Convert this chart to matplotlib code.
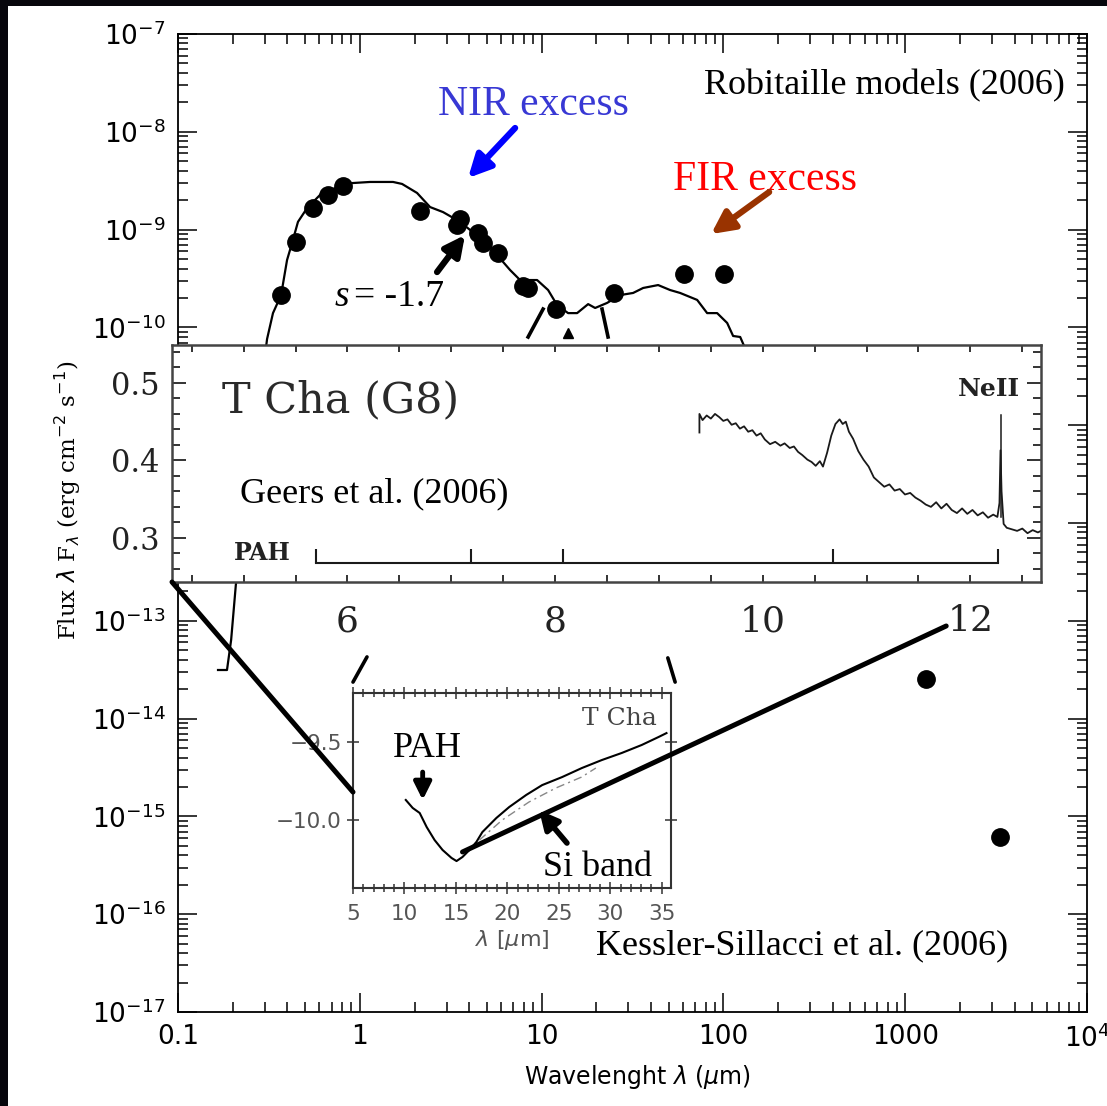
import numpy as np
import matplotlib
matplotlib.use("Agg")
import matplotlib.pyplot as plt
from matplotlib.patches import Rectangle, ConnectionPatch
from matplotlib.ticker import (LogLocator, FixedLocator, FuncFormatter, MultipleLocator,
                               NullFormatter)

# ---- main SED panel (T Cha), Robitaille models ----
phot_wl = [0.369, 0.446, 0.553, 0.669, 0.809, 2.145, 3.56, 3.43, 4.47, 4.77,
           5.77, 7.91, 8.43, 12.0, 25.1, 60.8, 101, 1305, 3332]
phot_flux = [2.14e-10, 7.46e-10, 1.66e-9, 2.26e-9, 2.79e-9, 1.55e-9, 1.28e-9, 1.11e-9, 9.2e-10, 7.3e-10,
             5.77e-10, 2.65e-10, 2.53e-10, 1.54e-10, 2.25e-10, 3.52e-10, 3.52e-10, 2.54e-14, 6.15e-16]

model_wl = [0.166, 0.186, 0.196, 0.208, 0.309, 0.333, 0.369, 0.398, 0.424, 0.457,
            0.513, 0.604, 0.778, 0.906, 1.139, 1.524, 1.708, 2.065, 2.435, 2.871,
            3.562, 4.044, 5.208, 6.709, 7.614, 9.445, 10.86, 12.17, 13.99, 15.68,
            18.03, 19.70, 22.93, 27.03, 31.87, 36.19, 43.75, 50.93, 57.81, 71.71,
            81.39, 92.38, 104.9, 113.1, 123.7, 140.4]
model_flux = [3.14e-14, 3.14e-14, 6.37e-14, 2.32e-13, 7.61e-11, 1.40e-10, 2.14e-10, 4.89e-10, 7.29e-10, 1.20e-9,
              1.66e-9, 2.26e-9, 2.79e-9, 2.99e-9, 3.07e-9, 3.07e-9, 2.93e-9, 2.37e-9, 1.70e-9, 1.51e-9,
              1.20e-9, 9.91e-10, 6.64e-10, 3.86e-10, 3.05e-10, 3.05e-10, 2.41e-10, 1.69e-10, 1.40e-10, 1.40e-10,
              1.73e-10, 1.58e-10, 1.78e-10, 2.14e-10, 2.25e-10, 2.53e-10, 2.71e-10, 2.41e-10, 2.25e-10, 1.91e-10,
              1.40e-10, 1.40e-10, 1.11e-10, 8.17e-11, 7.98e-11, 4.64e-11]

x_decades = [0.1, 1, 10, 100, 1000, 1e4]
y_decades = [1e-17, 1e-16, 1e-15, 1e-14, 1e-13, 1e-12, 1e-11, 1e-10, 1e-9, 1e-8, 1e-7]
y_hidden = [-11, -12]          # labels covered by the Geers panel

# ---- Geers et al. (2006) Spitzer spectrum ----
geers_wl = [9.39, 9.39, 9.42, 9.46, 9.50, 9.54, 9.58, 9.62, 9.66, 9.70,
            9.74, 9.78, 9.82, 9.86, 9.90, 9.94, 9.98, 10.02, 10.07, 10.12,
            10.17, 10.21, 10.26, 10.30, 10.34, 10.38, 10.43, 10.47, 10.51, 10.55,
            10.58, 10.62, 10.66, 10.70, 10.74, 10.77, 10.80, 10.83, 10.87, 10.92,
            10.97, 11.02, 11.07, 11.12, 11.17, 11.22, 11.27, 11.32, 11.37, 11.42,
            11.47, 11.52, 11.57, 11.62, 11.67, 11.72, 11.77, 11.82, 11.87, 11.92,
            11.97, 12.02, 12.07, 12.12, 12.17, 12.22, 12.26, 12.28, 12.29, 12.30,
            12.32, 12.35, 12.40, 12.45, 12.50, 12.55, 12.60, 12.65, 12.68]
geers_flux = [0.436, 0.460, 0.452, 0.458, 0.454, 0.460, 0.456, 0.451, 0.453, 0.446,
              0.448, 0.441, 0.444, 0.437, 0.439, 0.432, 0.435, 0.427, 0.421, 0.424,
              0.419, 0.422, 0.416, 0.418, 0.411, 0.407, 0.401, 0.398, 0.393, 0.399,
              0.392, 0.410, 0.432, 0.447, 0.453, 0.447, 0.450, 0.437, 0.428, 0.412,
              0.401, 0.392, 0.378, 0.372, 0.366, 0.369, 0.361, 0.363, 0.356, 0.358,
              0.352, 0.348, 0.343, 0.340, 0.346, 0.338, 0.344, 0.336, 0.332, 0.338,
              0.331, 0.336, 0.329, 0.333, 0.326, 0.330, 0.327, 0.345, 0.413, 0.360,
              0.318, 0.313, 0.311, 0.309, 0.312, 0.306, 0.310, 0.307, 0.309]
pah_marks = [5.70, 7.19, 8.08, 10.68, 12.27]
neii_wl = 12.29

# ---- Kessler-Silacci et al. (2006) spectrum (log flux) ----
kess_wl = [10.13, 10.80, 11.48, 12.16, 12.93, 13.70, 14.57, 15.06, 15.64, 16.32,
           16.99, 17.57, 18.93, 20.18, 21.83, 23.38, 25.31, 27.24, 29.18, 31.11,
           33.05, 34.69, 35.46]
kess_flux = [-9.872, -9.923, -9.955, -10.045, -10.128, -10.191, -10.242, -10.262, -10.236, -10.191,
             -10.140, -10.077, -9.987, -9.917, -9.840, -9.777, -9.726, -9.668, -9.617, -9.572,
             -9.521, -9.470, -9.445]
kess_cont_wl = [17.28, 19.5, 22.1, 24.7, 27.2, 28.6]
kess_cont = [-10.128, -10.0, -9.885, -9.796, -9.726, -9.668]

SERIF = "Liberation Serif"
CM = "DejaVu Serif"
plt.rcParams["font.family"] = "DejaVu Sans"

W, H = 1107, 1106
fig = plt.figure(figsize=(W / 100, H / 100), dpi=100)
fig.patch.set_facecolor("#07060c")
fig.add_artist(Rectangle((8 / W, 0), 1, 1 - 6 / H, transform=fig.transFigure,
                         fc="white", ec="none", zorder=-10))

# ---------------- main axes ----------------
ax = fig.add_axes([178 / W, 1 - 1012 / H, 909 / W, 978 / H])
ax.set_xscale("log"); ax.set_yscale("log")
ax.set_xlim(0.1, 1e4); ax.set_ylim(1e-17, 1e-7)
ax.plot(model_wl, model_flux, color="black", lw=1.6)
ax.plot(phot_wl, phot_flux, "o", color="black", ms=12.5)

ax.xaxis.set_major_locator(FixedLocator(x_decades))
ax.yaxis.set_major_locator(FixedLocator(y_decades))
for a in (ax.xaxis, ax.yaxis):
    a.set_minor_locator(LogLocator(base=10, subs=np.arange(2, 10), numticks=100))
    a.set_minor_formatter(NullFormatter())
ax.xaxis.set_major_formatter(FuncFormatter(lambda v, p: r"$10^4$" if v >= 1e4 else "%g" % v))
ax.yaxis.set_major_formatter(FuncFormatter(
    lambda v, p: "" if round(np.log10(v)) in y_hidden else r"$10^{%d}$" % round(np.log10(v))))
ax.tick_params(which="both", direction="in", top=True, right=True, width=1.1)
ax.tick_params(which="major", length=14, labelsize=19, pad=9)
ax.tick_params(which="minor", length=7)
for s in ax.spines.values():
    s.set_linewidth(1.3)

fig.text(68 / W, 1 - 500 / H, r"Flux $\lambda$ F$_\lambda$ (erg cm$^{-2}$ s$^{-1}$)",
         rotation=90, ha="center", va="center", fontsize=16.5, family=CM)
fig.text(638 / W, 1 - 1077 / H, r"Wavelenght $\lambda$ ($\mu$m)",
         ha="center", va="center", fontsize=17)

ax.text(8.98, 1.88e-8, "NIR excess", color="#3838d4", fontsize=30, family=SERIF,
        ha="center", va="center")
ax.annotate("", xy=(3.94, 3.37e-9), xytext=(7.15, 1.094e-8),
            arrowprops=dict(arrowstyle="-|>", color="#0000ff", lw=4.5, mutation_scale=34,
                            shrinkA=0, shrinkB=0))
ax.text(169.7, 3.21e-9, "FIR excess", color="#ff0000", fontsize=30, family=SERIF,
        ha="center", va="center")
ax.annotate("", xy=(85.6, 9.0e-10), xytext=(178.5, 2.42e-9),
            arrowprops=dict(arrowstyle="-|>", color="#993300", lw=4.5, mutation_scale=34,
                            shrinkA=0, shrinkB=0))
ax.text(7590, 2.94e-8, "Robitaille models (2006)", fontsize=26, family=SERIF,
        ha="right", va="center")
ax.text(0.80, 2.05e-10, "s", fontsize=27, family=SERIF, style="italic", ha="center", va="center")
ax.text(0.93, 2.05e-10, "= -1.7", fontsize=27, family=SERIF, ha="left", va="center")
ax.annotate("", xy=(3.79, 8.8e-10), xytext=(2.66, 3.68e-10),
            arrowprops=dict(arrowstyle="-|>", color="black", lw=4.5, mutation_scale=30,
                            shrinkA=0, shrinkB=0))
ax.text(271, 4.73e-17, "Kessler-Sillacci et al. (2006)", fontsize=26, family=SERIF,
        ha="center", va="center")

# zoom marks towards the Geers spectrum
ax.plot([10.19, 8.43], [1.54e-10, 7.98e-11], color="black", lw=2.6, clip_on=False)
ax.plot([21.5, 23.2], [1.54e-10, 7.98e-11], color="black", lw=2.6, clip_on=False)
ax.plot([14.0], [8.77e-11], "^", color="black", ms=7)

# ---------------- Geers inset ----------------
axg = fig.add_axes([172 / W, 1 - 582 / H, 869 / W, 237 / H])
axg.set_xlim(4.31, 12.68); axg.set_ylim(0.243, 0.549)
axg.plot(geers_wl, geers_flux, color="#1a1a1a", lw=1.3)
axg.plot([neii_wl, neii_wl], [0.327, 0.459], color="#1a1a1a", lw=1.1)
axg.plot([pah_marks[0], pah_marks[-1]], [0.268, 0.268], color="#1a1a1a", lw=1.5)
axg.vlines(pah_marks, 0.268, 0.286, color="#1a1a1a", lw=1.5)
axg.text(4.796, 0.478, "T Cha (G8)", fontsize=31, family=CM, color="#2a2a2a",
         ha="left", va="center")
axg.text(4.969, 0.357, "Geers et al. (2006)", fontsize=26, family=SERIF,
         ha="left", va="center")
axg.text(5.181, 0.281, "PAH", fontsize=17, family=CM, weight="bold", color="#222222",
         ha="center", va="center")
axg.text(12.18, 0.492, "NeII", fontsize=18, family=CM, weight="bold", color="#222222",
         ha="center", va="center")
axg.xaxis.set_major_locator(MultipleLocator(2))
axg.xaxis.set_minor_locator(MultipleLocator(0.5))
axg.yaxis.set_major_locator(MultipleLocator(0.1))
axg.yaxis.set_minor_locator(MultipleLocator(0.02))
axg.xaxis.set_major_formatter(FuncFormatter(lambda v, p: "%d" % round(v)))
axg.tick_params(which="both", direction="in", top=True, right=True, width=1.4, color="#333333")
axg.tick_params(axis="x", which="both", length=5, labelsize=26, pad=16)
axg.tick_params(axis="y", which="major", length=10, labelsize=22, pad=9)
axg.tick_params(axis="y", which="minor", length=6)
for lab in axg.get_xticklabels() + axg.get_yticklabels():
    lab.set_family(CM); lab.set_color("#222222")
for s in axg.spines.values():
    s.set_linewidth(1.8); s.set_color("#444444")

# ---------------- Kessler inset ----------------
axk = fig.add_axes([353 / W, 1 - 888 / H, 318 / W, 195 / H])
axk.set_xlim(5, 35.9); axk.set_ylim(-10.434, -9.189)
axk.plot(kess_wl, kess_flux, color="black", lw=1.5)
axk.plot(kess_cont_wl, kess_cont, color="#888888", lw=1.0, ls=(0, (6, 3, 1.5, 3)))
axk.xaxis.set_major_locator(MultipleLocator(5))
axk.xaxis.set_minor_locator(MultipleLocator(1))
axk.yaxis.set_major_locator(MultipleLocator(0.5))
axk.tick_params(which="both", direction="inout", top=True, right=True, width=1.1,
                color="#333333", labelcolor="#555555")
axk.tick_params(which="major", length=9, labelsize=15.5)
axk.tick_params(axis="x", which="major", pad=7)
axk.tick_params(which="minor", length=6)
axk.set_xlabel(r"$\lambda$ [$\mu$m]", fontsize=16, color="#555555", labelpad=3)
for s in axk.spines.values():
    s.set_linewidth(1.5); s.set_color("#333333")
axk.text(34.5, -9.349, "T Cha", fontsize=18, family=CM, color="#444444", ha="right", va="center")
axk.text(12.25, -9.541, "PAH", fontsize=26, family=SERIF, ha="center", va="center")
axk.annotate("", xy=(11.77, -9.872), xytext=(11.77, -9.694),
             arrowprops=dict(arrowstyle="-|>", color="black", lw=3.5, mutation_scale=26,
                             shrinkA=0, shrinkB=0))
axk.text(28.79, -10.306, "Si band", fontsize=26, family=SERIF, ha="center", va="center")
axk.annotate("", xy=(23.08, -9.936), xytext=(25.79, -10.147),
             arrowprops=dict(arrowstyle="-|>", color="black", lw=4.0, mutation_scale=28,
                             shrinkA=0, shrinkB=0))

# ---------------- connector lines between the panels ----------------
links = [
    ((0.0, 0.0), axg.transAxes, (0.0, 0.492), axk.transAxes, 3.6),
    ((15.64, -10.204), axk.transData, (1681, 8.85e-14), ax.transData, 3.6),
    ((0.0, 1.056), axk.transAxes, (0.044, 1.185), axk.transAxes, 2.6),
    ((0.99, 1.18), axk.transAxes, (1.013, 1.056), axk.transAxes, 2.6),
]
for xa, ta, xb, tb, lw in links:
    con = ConnectionPatch(xyA=xa, coordsA=ta, xyB=xb, coordsB=tb, color="black", lw=lw, zorder=6)
    fig.add_artist(con)

fig.savefig("out.png", dpi=100, facecolor=fig.get_facecolor())
